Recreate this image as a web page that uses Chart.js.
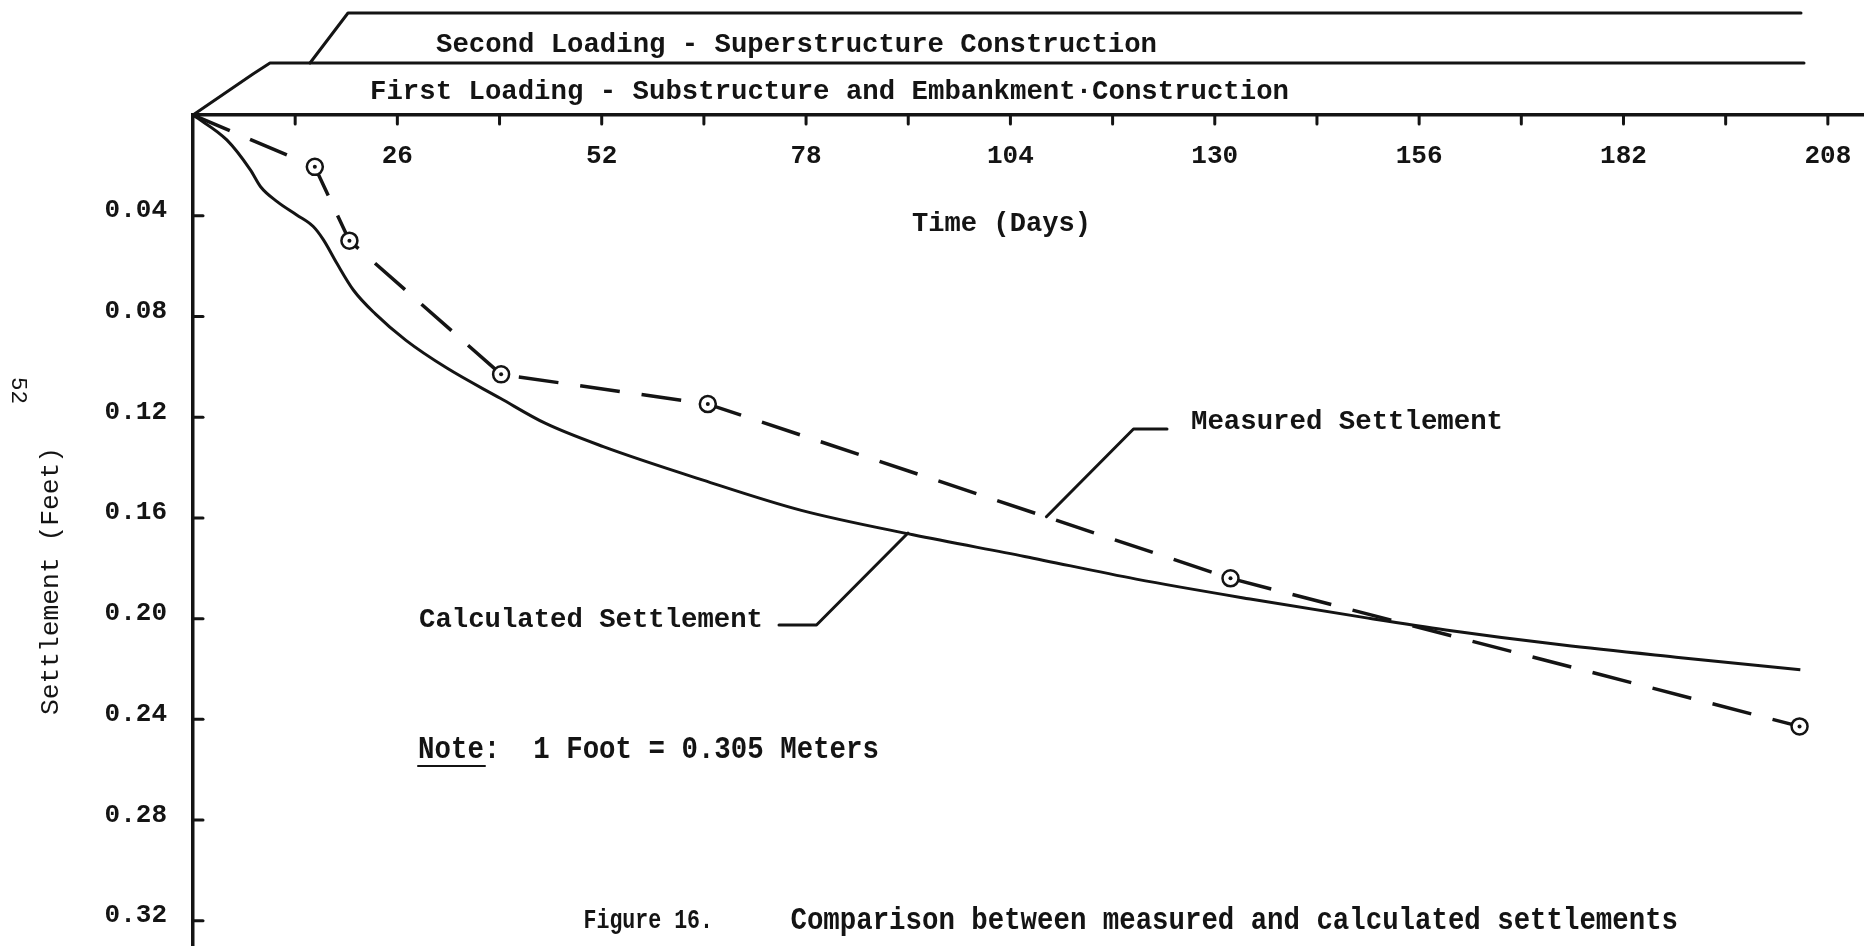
<!DOCTYPE html>
<html>
<head>
<meta charset="utf-8">
<script src="https://cdn.jsdelivr.net/npm/chart.js@4.4.0/dist/chart.umd.min.js"></script>
<style>
  html, body { margin: 0; padding: 0; background: #fff; }
  #wrap { width: 1864px; height: 946px; position: relative; }
</style>
</head>
<body>
<div id="wrap"><canvas id="chart"></canvas></div>
<script>
// --- values (days, feet) ---
const calcDays   = [0, 4.3, 7.3, 8.6, 10.7, 13.2, 15.3, 16.6, 18.3, 20.4, 23.2, 27.1, 32.3, 39.1, 44.8, 52.2, 64.9, 77.4, 91.6, 105.8, 120, 134.5, 149.5, 159.4, 174.3, 189.3, 204.5];
const calcSettle = [0, 0.0099, 0.0218, 0.0285, 0.0344, 0.0397, 0.0443, 0.0496, 0.0589, 0.0695, 0.079, 0.0895, 0.1005, 0.1125, 0.1224, 0.1317, 0.145, 0.157, 0.1667, 0.1753, 0.1843, 0.1922, 0.1998, 0.2045, 0.2105, 0.2155, 0.2203];
const measDays   = [0, 15.5, 19.9, 39.2, 65.5, 132, 204.4];
const measSettle = [0, 0.0206, 0.0499, 0.103, 0.1148, 0.184, 0.2428];
const xTickLabels = [26, 52, 78, 104, 130, 156, 182, 208];
const yTickLabels = ['0.04', '0.08', '0.12', '0.16', '0.20', '0.24', '0.28', '0.32'];

const INK = '#141414';
const MONO = '"Liberation Mono", "DejaVu Sans Mono", monospace';

function pts(xs, ys) { return xs.map((x, i) => ({ x: x, y: ys[i] })); }

// draw text squeezed/stretched to a given width
function fitText(ctx, text, x, y, w, font) {
  ctx.font = font;
  const m = ctx.measureText(text).width;
  ctx.save();
  ctx.translate(x, y);
  ctx.scale(w / m, 1);
  ctx.textAlign = 'left';
  ctx.textBaseline = 'middle';
  ctx.fillText(text, 0, 0);
  ctx.restore();
}
function poly(ctx, p) {
  ctx.beginPath();
  ctx.moveTo(p[0][0], p[0][1]);
  for (let i = 1; i < p.length; i++) ctx.lineTo(p[i][0], p[i][1]);
  ctx.stroke();
}

// --- ticks pointing inward, loading bands, labels and caption ---
const figureDecor = {
  id: 'figureDecor',
  afterDraw(chart) {
    const { ctx, chartArea } = chart;
    const xs = chart.scales.x, ys = chart.scales.y;
    const L = chartArea.left, T = chartArea.top;
    ctx.save();
    ctx.strokeStyle = INK;
    ctx.fillStyle = INK;
    ctx.lineCap = 'round';
    ctx.lineJoin = 'round';

    ctx.lineWidth = 3;
    xs.ticks.forEach(t => {
      if (t.value <= 0) return;
      const px = xs.getPixelForValue(t.value);
      poly(ctx, [[px, T], [px, T + 9]]);
    });
    ys.ticks.forEach(t => {
      if (t.value <= 0) return;
      const py = ys.getPixelForValue(t.value);
      poly(ctx, [[L, py], [L + 10, py]]);
    });

    // loading bands
    poly(ctx, [[L, T], [L + 60, T - 41], [L + 77, T - 52], [1804, T - 52]]);
    poly(ctx, [[L + 117, T - 52], [L + 155, T - 102], [1801, T - 102]]);
    const bandFont = 'bold 27px ' + MONO;
    fitText(ctx, 'Second Loading - Superstructure Construction', 436, 45, 721, bandFont);
    fitText(ctx, 'First Loading - Substructure and Embankment\u00b7Construction', 370, 92, 919, bandFont);

    // axis titles and page number
    fitText(ctx, 'Time (Days)', 912, 224, 179, bandFont);
    ctx.save();
    ctx.translate(51, 581);
    ctx.rotate(-Math.PI / 2);
    fitText(ctx, 'Settlement (Feet)', -134, 0, 268, '26px ' + MONO);
    ctx.restore();
    ctx.save();
    ctx.translate(18, 391);
    ctx.rotate(Math.PI / 2);
    fitText(ctx, '52', -14, 0, 27, '22px ' + MONO);
    ctx.restore();

    // curve labels with leaders
    fitText(ctx, 'Measured Settlement', 1191, 422, 312, bandFont);
    fitText(ctx, 'Calculated Settlement', 419, 620, 344, bandFont);
    ctx.lineWidth = 3;
    poly(ctx, [[1167, 429], [1133.5, 429], [1046.4, 516.7]]);
    poly(ctx, [[779, 625], [816.5, 625], [908, 533]]);

    // note and caption
    const capFont = 'bold 31px ' + MONO;
    fitText(ctx, 'Note:  1 Foot = 0.305 Meters', 418, 750, 461, capFont);
    ctx.lineWidth = 2;
    poly(ctx, [[418, 766], [485, 766]]);
    fitText(ctx, 'Figure 16.', 583.5, 921, 129.5, 'bold 28px ' + MONO);
    fitText(ctx, 'Comparison between measured and calculated settlements', 790.5, 921, 887.5, capFont);
    ctx.restore();
  }
};

const tickFont = { family: MONO, size: 26, weight: 'bold' };

new Chart(document.getElementById('chart'), {
  type: 'line',
  data: {
    datasets: [
      {
        label: 'Measured points',
        data: pts(measDays, measSettle),
        showLine: false,
        pointRadius: c => c.dataIndex === 0 ? 0 : 2,
        pointBackgroundColor: INK,
        pointBorderWidth: 0,
        order: 0
      },
      {
        label: 'Measured Settlement',
        data: pts(measDays, measSettle),
        borderColor: INK,
        borderWidth: 3.5,
        borderDash: [40, 22],
        tension: 0,
        pointRadius: c => c.dataIndex === 0 ? 0 : 8,
        pointBorderWidth: 2.5,
        pointBackgroundColor: '#fff',
        pointBorderColor: INK,
        order: 1
      },
      {
        label: 'Calculated Settlement',
        data: pts(calcDays, calcSettle),
        borderColor: INK,
        borderWidth: 3,
        cubicInterpolationMode: 'monotone',
        pointRadius: 0,
        order: 2
      }
    ]
  },
  options: {
    responsive: true,
    maintainAspectRatio: false,
    animation: false,
    layout: { padding: 0, autoPadding: false },
    plugins: { legend: { display: false }, tooltip: { enabled: false } },
    scales: {
      x: {
        type: 'linear',
        position: 'top',
        min: 0,
        max: 212.6,
        afterBuildTicks: ax => { ax.ticks = ax.ticks.filter(t => t.value <= 208.01); },
        afterFit: ax => { ax.height = 115; ax.paddingLeft = 0; ax.paddingRight = 0; },
        grid: { drawOnChartArea: false, drawTicks: false },
        border: { display: true, color: INK, width: 3.5 },
        ticks: {
          stepSize: 13,
          includeBounds: false,
          mirror: true,
          padding: 26,
          autoSkip: false,
          maxRotation: 0,
          color: INK,
          font: tickFont,
          callback: v => xTickLabels.includes(v) ? String(v) : ''
        }
      },
      y: {
        type: 'linear',
        position: 'left',
        reverse: true,
        min: 0,
        max: 0.33,
        afterBuildTicks: ax => { ax.ticks = ax.ticks.filter(t => t.value <= 0.3201); },
        afterFit: ax => { ax.width = 193; ax.paddingTop = 0; ax.paddingBottom = 0; },
        grid: { drawOnChartArea: false, drawTicks: false },
        border: { display: true, color: INK, width: 3.5 },
        ticks: {
          stepSize: 0.04,
          includeBounds: false,
          padding: 26,
          labelOffset: -5,
          autoSkip: false,
          color: INK,
          font: tickFont,
          callback: v => { const s = v.toFixed(2); return yTickLabels.includes(s) ? s : ''; }
        }
      }
    }
  },
  plugins: [figureDecor]
});
</script>
</body>
</html>
